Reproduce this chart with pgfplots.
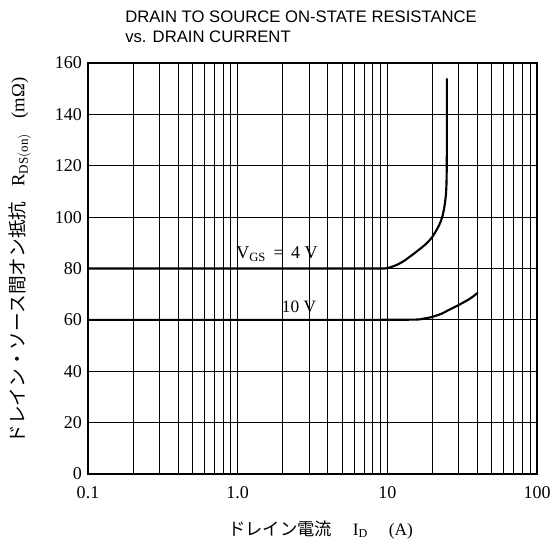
\documentclass[border=0pt]{standalone}
\usepackage{pgfplots}
\pgfplotsset{compat=1.18}
\usepackage{fontspec}
\setmainfont{Liberation Serif}
\setsansfont{Liberation Sans}
\newfontfamily\jp{Noto Sans CJK JP}
\begin{document}
\begin{tikzpicture}
\begin{axis}[
  name=ax,
  scale only axis,
  width=336.75pt, height=308.25pt,
  xmode=log,
  xmin=0.1, xmax=100, ymin=0, ymax=160,
  xtick={0.1,1,10,100},
  xticklabels={0.1,1.0,10,100},
  minor xtick={0.2,0.3,0.4,0.5,0.6,0.7,0.8,0.9,2,3,4,5,6,7,8,9,20,30,40,50,60,70,80,90},
  ytick={0,20,...,160},
  xmajorgrids, xminorgrids, ymajorgrids,
  major grid style={black, line width=0.7pt},
  minor grid style={black, line width=0.7pt},
  major tick length=0pt, minor tick length=0pt,
  axis line style={line width=1.4pt},
  tick label style={font=\fontsize{13.5}{15}\selectfont},
  /pgf/number format/assume math mode=true,
  xticklabel style={yshift=-6pt},
  yticklabel style={xshift=-1pt},
  clip=true,
]
\addplot[black, line width=1.6pt, line join=round] coordinates {
 (0.1,80) (9.63,80) (10.4,80.4) (11.25,81.1) (12.2,82.1) (13.12,83.2) (14.2,84.7) (15.31,86.1)
 (16.5,87.6) (17.85,89.2) (18.9,90.6) (19.87,92.1) (20.7,93.7) (21.47,95.3) (22.2,96.9) (22.83,98.6)
 (23.4,100.6) (23.91,103) (24.3,105.8) (24.66,109) (24.85,113) (24.96,120) (25,137) (25,154)};
\addplot[black, line width=1.6pt, smooth, tension=0.4] coordinates {
 (0.1,60) (5,60) (15,60.1) (17.5,60.5) (19.8,61.1) (23,62.4) (26.2,64.1) (30,65.8) (33.9,67.5) (37,68.9) (40.2,70.6)};
\node[anchor=base west, inner sep=0pt, font=\fontsize{13.5}{15}\selectfont] at (axis cs:0.975,84) {V$_{\mathrm{GS}}$ \,=\, 4 V};
\node[anchor=base west, inner sep=0pt, font=\fontsize{13}{15}\selectfont] at (axis cs:1.97,62.7) {10 V};
\end{axis}
\node[anchor=north west, align=left, inner sep=0pt, font=\sffamily\fontsize{12.5}{14.5}\selectfont]
  at ([shift={(27.75pt,39pt)}]ax.north west) {DRAIN TO SOURCE ON-STATE RESISTANCE\\vs. DRAIN CURRENT};
\node[rotate=90, inner sep=0pt, font=\fontsize{14}{16}\selectfont]
  at ([shift={(-51pt,6pt)}]ax.west) {{\jp ドレイン・ソース間オン抵抗}\hspace{0.8em}R$_{\mathrm{DS(on)}}$\hspace{0.8em}(mΩ)};
\node[inner sep=0pt, font=\fontsize{13}{15}\selectfont]
  at ([shift={(6pt,-42pt)}]ax.south) {{\jp ドレイン電流}\hspace{1.2em}I$_{\mathrm{D}}$\hspace{1.2em}(A)};
\pgfresetboundingbox
\path ([shift={(-66pt,-57pt)}]ax.south west) rectangle ([shift={(15pt,47.25pt)}]ax.north east);
\end{tikzpicture}
\end{document}
